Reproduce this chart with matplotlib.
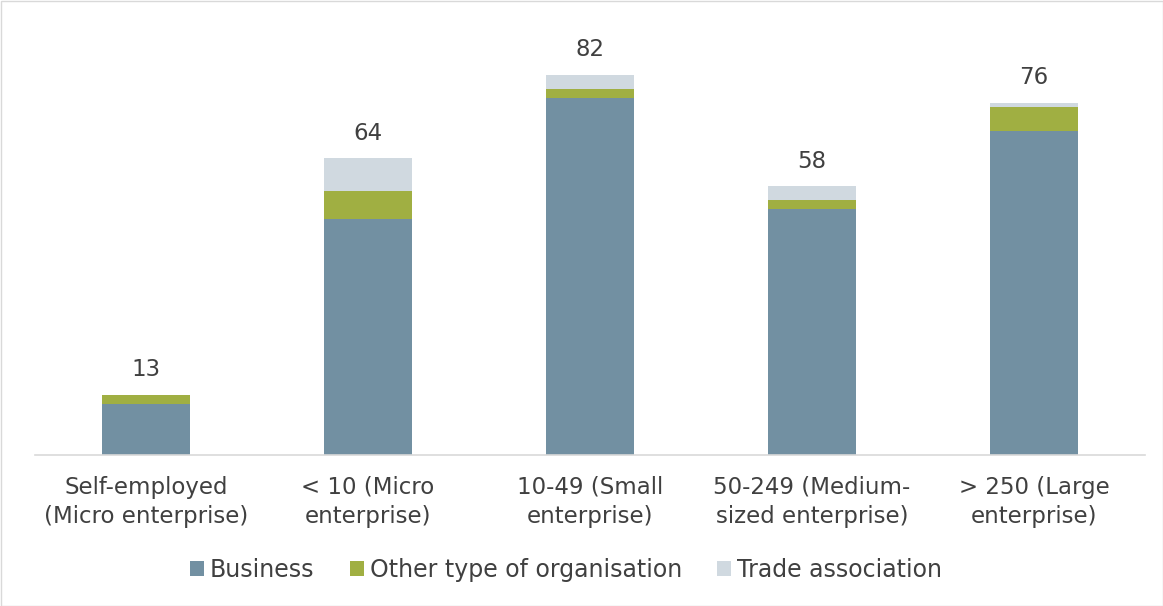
import matplotlib
matplotlib.use("Agg")
import matplotlib.pyplot as plt
import numpy as np

categories = ["Self-employed\n(Micro enterprise)", "< 10 (Micro\nenterprise)",
              "10-49 (Small\nenterprise)", "50-249 (Medium-\nsized enterprise)",
              "> 250 (Large\nenterprise)"]
business = [11, 51, 77, 53, 70]
other = [2, 6, 2, 2, 5]
trade = [0, 7, 3, 3, 1]
totals = [13, 64, 82, 58, 76]

colors = {"Business": "#7290A2", "Other type of organisation": "#A0AF42",
          "Trade association": "#D0D9E0"}
text_color = "#404040"
fs = 16.5

plt.rcParams['font.family'] = ['DejaVu Sans']
fig = plt.figure(figsize=(11.63, 6.06), dpi=100)
ax = fig.add_axes([35/1163, (606-455)/606, 1110/1163, 445/606])

x = np.arange(len(categories))
w = 0.4
b = np.array(business); o = np.array(other); t = np.array(trade)
ax.bar(x, b, w, color=colors["Business"], label="Business")
ax.bar(x, o, w, bottom=b, color=colors["Other type of organisation"], label="Other type of organisation")
ax.bar(x, t, w, bottom=b+o, color=colors["Trade association"], label="Trade association")

for xi, tot in zip(x, totals):
    ax.text(xi, tot + 5.4, str(tot), ha="center", va="center", fontsize=fs, color=text_color)

ax.set_xlim(-0.5, len(categories) - 0.5)
ax.set_ylim(0, 96)
ax.set_yticks([])
ax.set_xticks(x)
ax.set_xticklabels(categories, fontsize=fs, color=text_color, linespacing=1.34)
ax.tick_params(axis="x", length=0, pad=15)
for s in ["top", "right", "left"]:
    ax.spines[s].set_visible(False)
ax.spines["bottom"].set_color("#D9D9D9")
ax.spines["bottom"].set_linewidth(1.2)

leg = fig.legend(loc="center", bbox_to_anchor=(566/1163, (606-570)/606), ncol=3, frameon=False,
                 fontsize=17, handlelength=0.6, handleheight=0.6, handletextpad=0.25,
                 columnspacing=1.5)
for txt in leg.get_texts():
    txt.set_color(text_color)

border = plt.Rectangle((0.5/1163, 0.5/606), 1 - 1/1163, 1 - 1/606, transform=fig.transFigure,
                       fill=False, edgecolor="#D9D9D9", linewidth=1)
fig.patches.append(border)

fig.savefig("out.png", dpi=100)
